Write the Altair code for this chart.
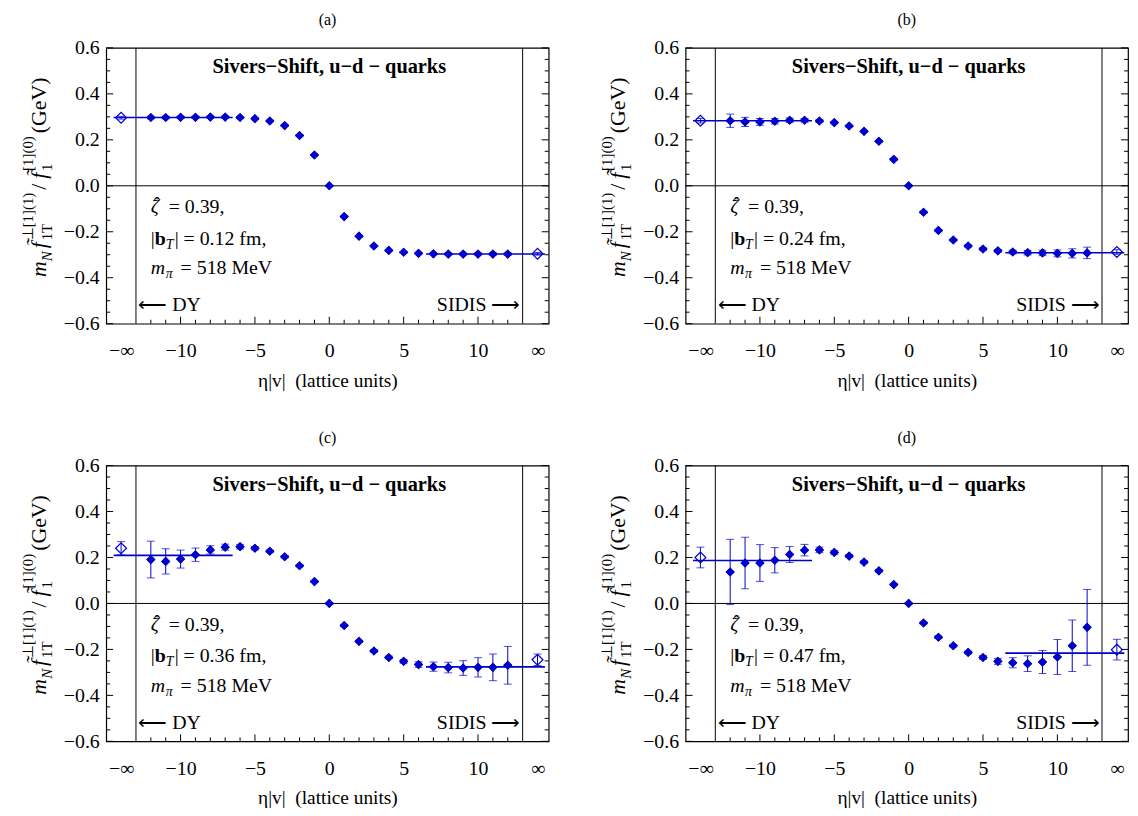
import altair as alt
import pandas as pd

# ---------------- data ----------------
ETA = [-12, -11, -10, -9, -8, -7, -6, -5, -4, -3, -2, -1, 0, 1, 2, 3, 4, 5, 6, 7, 8, 9, 10, 11, 12]

VAL_A = [0.297, 0.297, 0.298, 0.298, 0.299, 0.299, 0.297, 0.292, 0.282, 0.262, 0.219, 0.134, 0.0,
         -0.134, -0.219, -0.262, -0.281, -0.289, -0.294, -0.296, -0.297, -0.297, -0.297, -0.297, -0.297]
ERR_A = [0.005, 0.005, 0.004, 0.004, 0.004, 0.004, 0.003, 0.003, 0.003, 0.003, 0.003, 0.003, 0.002,
         0.003, 0.003, 0.003, 0.003, 0.003, 0.003, 0.004, 0.004, 0.004, 0.004, 0.005, 0.005]
INF_A = [0.296, -0.296]
INF_ERR_A = [0.006, 0.006]
FIT_A = [0.297, -0.297]

VAL_B = [0.283, 0.278, 0.278, 0.281, 0.285, 0.285, 0.282, 0.275, 0.260, 0.237, 0.194, 0.115, 0.0,
         -0.115, -0.194, -0.236, -0.262, -0.275, -0.283, -0.288, -0.291, -0.292, -0.294, -0.294, -0.292]
ERR_B = [0.029, 0.020, 0.015, 0.012, 0.010, 0.008, 0.006, 0.005, 0.004, 0.004, 0.004, 0.004, 0.003,
         0.004, 0.004, 0.004, 0.004, 0.005, 0.006, 0.008, 0.010, 0.012, 0.015, 0.020, 0.025]
INF_B = [0.283, -0.288]
INF_ERR_B = [0.010, 0.010]
FIT_B = [0.283, -0.291]

VAL_C = [0.191, 0.183, 0.193, 0.212, 0.233, 0.245, 0.247, 0.240, 0.227, 0.203, 0.164, 0.095, 0.0,
         -0.096, -0.165, -0.207, -0.235, -0.252, -0.266, -0.275, -0.279, -0.281, -0.278, -0.278, -0.269]
ERR_C = [0.080, 0.055, 0.039, 0.029, 0.018, 0.013, 0.010, 0.007, 0.005, 0.005, 0.004, 0.004, 0.003,
         0.004, 0.004, 0.005, 0.006, 0.008, 0.012, 0.020, 0.023, 0.032, 0.042, 0.058, 0.082]
INF_C = [0.240, -0.245]
INF_ERR_C = [0.029, 0.025]
FIT_C = [0.209, -0.276]

VAL_D = [0.137, 0.176, 0.176, 0.188, 0.213, 0.232, 0.233, 0.222, 0.206, 0.180, 0.142, 0.082, 0.0,
         -0.085, -0.147, -0.184, -0.213, -0.235, -0.252, -0.258, -0.262, -0.255, -0.233, -0.184, -0.104]
ERR_D = [0.142, 0.112, 0.080, 0.055, 0.035, 0.025, 0.012, 0.008, 0.006, 0.005, 0.005, 0.004, 0.003,
         0.004, 0.005, 0.005, 0.006, 0.008, 0.013, 0.022, 0.034, 0.050, 0.076, 0.112, 0.165]
INF_D = [0.200, -0.201]
INF_ERR_D = [0.045, 0.045]
FIT_D = [0.187, -0.216]

PANELS = [
    ("(a)", "0.12", VAL_A, ERR_A, INF_A, INF_ERR_A, FIT_A),
    ("(b)", "0.24", VAL_B, ERR_B, INF_B, INF_ERR_B, FIT_B),
    ("(c)", "0.36", VAL_C, ERR_C, INF_C, INF_ERR_C, FIT_C),
    ("(d)", "0.47", VAL_D, ERR_D, INF_D, INF_ERR_D, FIT_D),
]

INF_POS = [-14, 14]                 # where -inf / +inf are drawn
FIT_START = [-14.5, 6.5]
FIT_END = [-6.5, 14.5]
REGION_EDGES = [-13, 13]

X_TICK_VALUES = [-14, -10, -5, 0, 5, 10, 14]
X_TICK_LABELS = ["−∞", "−10", "−5", "0", "5", "10", "∞"]
X_MAJOR_TICKS = [-10, -5, 0, 5, 10]
X_MINOR_TICKS = [-12, -11, -9, -8, -7, -6, -4, -3, -2, -1, 1, 2, 3, 4, 6, 7, 8, 9, 11, 12]
Y_TICK_VALUES = [-0.6, -0.4, -0.2, 0.0, 0.2, 0.4, 0.6]
Y_MINOR_TICKS = [-0.55, -0.5, -0.45, -0.35, -0.3, -0.25, -0.15, -0.1, -0.05,
                 0.05, 0.1, 0.15, 0.25, 0.3, 0.35, 0.45, 0.5, 0.55]

# ---------------- style ----------------
FONT = "Liberation Serif"
BLUE = "#0000cc"
W, H = 446, 278
XS = alt.Scale(domain=[-15, 14.75], nice=False, zero=False)
YS = alt.Scale(domain=[-0.6, 0.6], nice=False, zero=False)

label_expr = " : ".join(
    f"datum.value == {v} ? '{l}'" for v, l in zip(X_TICK_VALUES, X_TICK_LABELS)
) + " : ''"

X_AXIS = alt.Axis(values=X_TICK_VALUES, labelExpr=label_expr, ticks=False, tickSize=0,
                  domain=False, grid=False, labelFont=FONT, labelFontSize=20,
                  labelColor="black", labelPadding=17, labelFlush=False,
                  title="η|v|\u00a0\u00a0(lattice units)", titleFont=FONT, titleFontSize=19.5,
                  titleFontWeight="normal", titleColor="black", titlePadding=11)
Y_AXIS = alt.Axis(values=Y_TICK_VALUES, format=".1f", ticks=False, tickSize=0,
                  domain=False, grid=False, labelFont=FONT, labelFontSize=20,
                  labelColor="black", labelPadding=7, labelFlush=False, title=None)


def xq(field):
    return alt.X(field, type="quantitative", scale=XS, axis=X_AXIS)


def yq(field):
    return alt.Y(field, type="quantitative", scale=YS, axis=Y_AXIS)


def data_text(text, x, y, size=20, style="normal", weight="normal", align="left", dx=0, dy=0):
    df = pd.DataFrame({"x": [x], "y": [y], "t": [text]})
    return alt.Chart(df).mark_text(
        font=FONT, fontSize=size, fontStyle=style, fontWeight=weight, align=align,
        baseline="alphabetic", dx=dx, dy=dy, color="black"
    ).encode(x=xq("x"), y=yq("y"), text="t:N")


def pix_text(text, px, py, size=22, style="normal"):
    df = pd.DataFrame({"t": [text]})
    return alt.Chart(df).mark_text(
        font=FONT, fontSize=size, fontStyle=style, align="left", baseline="alphabetic",
        angle=270, color="black"
    ).encode(x=alt.value(px), y=alt.value(py), text="t:N")


def make_panel(label, bt, vals, errs, infv, infe, fits):
    pts = pd.DataFrame({"eta": ETA, "val": vals, "err": errs})
    pts["lo"] = pts["val"] - pts["err"]
    pts["hi"] = pts["val"] + pts["err"]
    caps = pd.DataFrame({"eta": ETA * 2, "c": list(pts["lo"]) + list(pts["hi"])})
    inf = pd.DataFrame({"eta": INF_POS, "val": infv, "err": infe})
    inf["lo"] = inf["val"] - inf["err"]
    inf["hi"] = inf["val"] + inf["err"]
    infcaps = pd.DataFrame({"eta": INF_POS * 2, "c": list(inf["lo"]) + list(inf["hi"])})
    fit = pd.DataFrame({"x0": FIT_START, "x1": FIT_END, "f": fits})

    layers = []
    # points first (carry the axes)
    layers.append(alt.Chart(pts).mark_point(shape="diamond", filled=True, size=85, color=BLUE, opacity=1)
                  .encode(x=xq("eta"), y=yq("val")))
    # frame lines
    layers.append(alt.Chart(pd.DataFrame({"y": [0.0]})).mark_rule(color="black", strokeWidth=1)
                  .encode(y=yq("y")))
    layers.append(alt.Chart(pd.DataFrame({"x": REGION_EDGES})).mark_rule(color="black", strokeWidth=1)
                  .encode(x=xq("x")))
    # inward ticks
    layers.append(alt.Chart(pd.DataFrame({"x": X_MAJOR_TICKS})).mark_rule(color="black", strokeWidth=1)
                  .encode(x=xq("x"), y=alt.value(H), y2=alt.value(H - 7)))
    layers.append(alt.Chart(pd.DataFrame({"x": X_MINOR_TICKS})).mark_rule(color="black", strokeWidth=1)
                  .encode(x=xq("x"), y=alt.value(H), y2=alt.value(H - 4)))
    for side_x, sign in ((0, 1), (W, -1)):
        layers.append(alt.Chart(pd.DataFrame({"y": Y_TICK_VALUES})).mark_rule(color="black", strokeWidth=1)
                      .encode(y=yq("y"), x=alt.value(side_x), x2=alt.value(side_x + sign * 7)))
        layers.append(alt.Chart(pd.DataFrame({"y": Y_MINOR_TICKS})).mark_rule(color="black", strokeWidth=1)
                      .encode(y=yq("y"), x=alt.value(side_x), x2=alt.value(side_x + sign * 4)))
    # fit lines
    layers.append(alt.Chart(fit).mark_rule(color=BLUE, strokeWidth=1.6)
                  .encode(x=xq("x0"), x2="x1:Q", y=yq("f")))
    # error bars
    layers.append(alt.Chart(pts).mark_rule(color=BLUE, strokeWidth=1)
                  .encode(x=xq("eta"), y=yq("lo"), y2="hi:Q"))
    layers.append(alt.Chart(caps).mark_tick(color=BLUE, orient="horizontal", size=8, thickness=1)
                  .encode(x=xq("eta"), y=yq("c")))
    layers.append(alt.Chart(inf).mark_rule(color=BLUE, strokeWidth=1)
                  .encode(x=xq("eta"), y=yq("lo"), y2="hi:Q"))
    layers.append(alt.Chart(infcaps).mark_tick(color=BLUE, orient="horizontal", size=8, thickness=1)
                  .encode(x=xq("eta"), y=yq("c")))
    # points on top again, plus open diamonds for the infinite-length limits
    layers.append(alt.Chart(pts).mark_point(shape="diamond", filled=True, size=85, color=BLUE, opacity=1)
                  .encode(x=xq("eta"), y=yq("val")))
    layers.append(alt.Chart(inf).mark_point(shape="diamond", filled=False, size=120, color=BLUE,
                                            strokeWidth=1.2, opacity=1)
                  .encode(x=xq("eta"), y=yq("val")))

    # texts inside the frame
    layers.append(data_text("Sivers−Shift, u−d − quarks", 0, 0.49, size=20.5, weight="bold", align="center"))
    layers.append(data_text("⟵ DY", -12.85, -0.545))
    layers.append(data_text("SIDIS ⟶", 12.85, -0.545, align="right"))
    layers.append(data_text("ζ", -12, -0.118, style="italic"))
    layers.append(data_text("ˆ", -12, -0.118, dx=3, dy=-3))
    layers.append(data_text("= 0.39,", -12, -0.118, dx=18))
    layers.append(data_text("|", -12, -0.256))
    layers.append(data_text("b", -12, -0.256, weight="bold", dx=4))
    layers.append(data_text("T", -12, -0.256, size=14, style="italic", dx=15, dy=4))
    layers.append(data_text(f"| = {bt} fm,", -12, -0.256, dx=24))
    layers.append(data_text("m", -12, -0.385, style="italic"))
    layers.append(data_text("π", -12, -0.385, size=14, style="italic", dx=15, dy=4))
    layers.append(data_text("= 518 MeV", -12, -0.385, dx=30))

    # rotated y title pieces
    bx, supx, subx = -61, -74, -55
    layers.append(pix_text("m", bx, 231, style="italic"))
    layers.append(pix_text("N", subx, 215, size=15, style="italic"))
    layers.append(pix_text("f̃", bx, 202, style="italic"))
    layers.append(pix_text("⊥[1](1)", supx, 194, size=15))
    layers.append(pix_text("1T", subx, 194, size=15))
    layers.append(pix_text("/", bx, 143))
    layers.append(pix_text("f̃", bx, 132, style="italic"))
    layers.append(pix_text("[1](0)", supx, 124, size=15))
    layers.append(pix_text("1", subx, 124, size=15))
    layers.append(pix_text("(GeV)", bx, 86))

    return alt.layer(*layers).properties(
        width=W, height=H,
        title=alt.TitleParams(label, font=FONT, fontSize=16, fontWeight="normal", color="black",
                              anchor="middle", frame="group", offset=-6, baseline="bottom"),
    )


panels = [make_panel(*p) for p in PANELS]
row1 = alt.hconcat(panels[0], panels[1], spacing=49)
row2 = alt.hconcat(panels[2], panels[3], spacing=49)
chart = alt.vconcat(row1, row2, spacing=38).properties(
    padding={"left": 12, "top": 0, "right": 0, "bottom": 0}
).configure_view(stroke="black", strokeWidth=1.2)

chart.save("out.html", embed_options={"renderer": "svg", "actions": False})
